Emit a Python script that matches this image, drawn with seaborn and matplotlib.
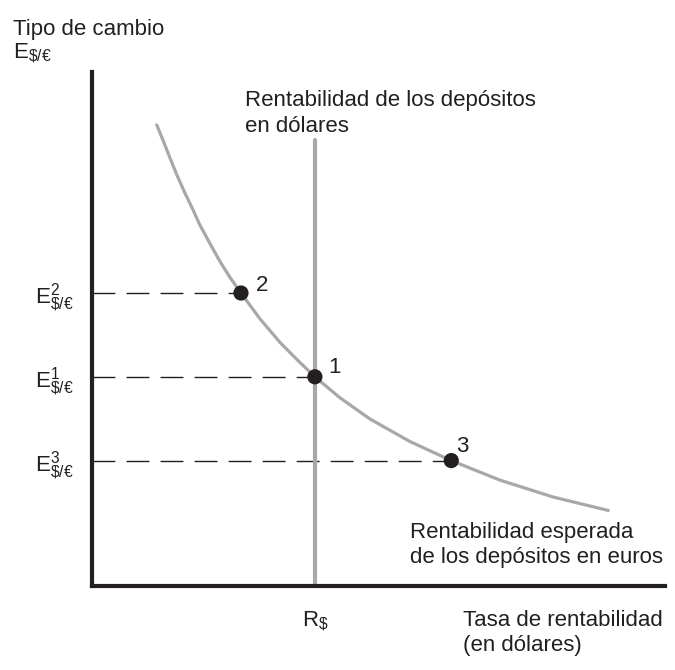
import pandas as pd
import matplotlib
matplotlib.use('Agg')
import matplotlib.pyplot as plt
import seaborn as sns

# curva "Rentabilidad esperada de los depósitos en euros"
tasa = [1.13, 1.24, 1.36, 1.48, 1.62, 1.75, 1.88, 2.06, 2.23, 2.41, 2.60,
        2.93, 3.28, 3.60, 3.89, 4.33, 4.85, 5.55, 6.27, 7.12, 8.05, 9.01]
tipo = [8.97, 8.67, 8.33, 8.00, 7.65, 7.35, 7.03, 6.66, 6.32, 6.00, 5.70,
        5.20, 4.74, 4.38, 4.07, 3.66, 3.25, 2.81, 2.44, 2.06, 1.73, 1.47]

# puntos 2, 1, 3
punto_nombre = ['2', '1', '3']
punto_x = [2.60, 3.89, 6.27]
punto_y = [5.70, 4.07, 2.44]
ytick_labels = [r'$E^{2}_{\$/€}$', r'$E^{1}_{\$/€}$', r'$E^{3}_{\$/€}$']

# rentabilidad de los depósitos en dólares
r_dolar = 3.89
r_dolar_top = 8.68
xtick_labels = [r'$R_{\$}$']

curva = pd.DataFrame({'tasa': tasa, 'tipo': tipo})
puntos = pd.DataFrame({'x': punto_x, 'y': punto_y, 'nombre': punto_nombre})

sns.set_style('white')
plt.rcParams['font.family'] = ['Liberation Sans', 'DejaVu Sans']
plt.rcParams['mathtext.default'] = 'regular'
plt.rcParams['lines.scale_dashes'] = False

ink = '#231f20'
gris = '#a8a8ab'

fig = plt.figure(figsize=(6.75, 6.70), dpi=100)
ax = fig.add_axes([92 / 675, 84 / 670, 573 / 675, 514 / 670])

# lineas discontinuas hasta cada punto
ax.hlines(punto_y, 0, punto_x, colors=ink, linewidth=1.0,
          linestyles=[(0, (16.5, 8))], zorder=1)

# linea vertical R$
ax.axvline(r_dolar, ymin=0, ymax=r_dolar_top / 10, color=gris,
           linewidth=3.0, zorder=2)

sns.lineplot(data=curva, x='tasa', y='tipo', color=gris, linewidth=2.3,
             ax=ax, zorder=3, solid_joinstyle='round')
sns.scatterplot(data=puntos, x='x', y='y', color=ink, s=120,
                edgecolor='none', ax=ax, zorder=5)

offsets = [(15, 2), (13, 4), (5, 9)]
for (_, row), off in zip(puntos.iterrows(), offsets):
    ax.annotate(row['nombre'], (row['x'], row['y']), xytext=off,
                textcoords='offset pixels', fontsize=16, color=ink,
                ha='left', va='baseline')

ax.set_xlim(0, 10)
ax.set_ylim(0, 10)
ax.set_xlabel('')
ax.set_ylabel('')
ax.set_xticks([r_dolar])
ax.set_xticklabels(xtick_labels)
ax.set_yticks(punto_y)
ax.set_yticklabels(ytick_labels)
ax.tick_params(axis='both', direction='out', length=8, width=0.9,
               color=ink, labelcolor=ink, labelsize=16)
ax.tick_params(axis='x', pad=9)
ax.tick_params(axis='y', pad=5)

sns.despine(ax=ax)
for side in ['left', 'bottom']:
    ax.spines[side].set_linewidth(3.0)
    ax.spines[side].set_color(ink)

# textos
textos = [
    ('Tipo de cambio', -1.38, 10.72),
    (r'$E_{\$/€}$', -1.38, 10.25),
    ('Rentabilidad de los depósitos', 2.67, 9.34),
    ('en dólares', 2.67, 8.83),
    ('Rentabilidad esperada', 5.55, 0.93),
    ('de los depósitos en euros', 5.55, 0.45),
    ('Tasa de rentabilidad', 6.47, -0.78),
    ('(en dólares)', 6.47, -1.26),
]
for t, x, y in textos:
    ax.text(x, y, t, fontsize=16, color=ink, ha='left', va='baseline',
            clip_on=False)

fig.savefig('out.png', dpi=100)
